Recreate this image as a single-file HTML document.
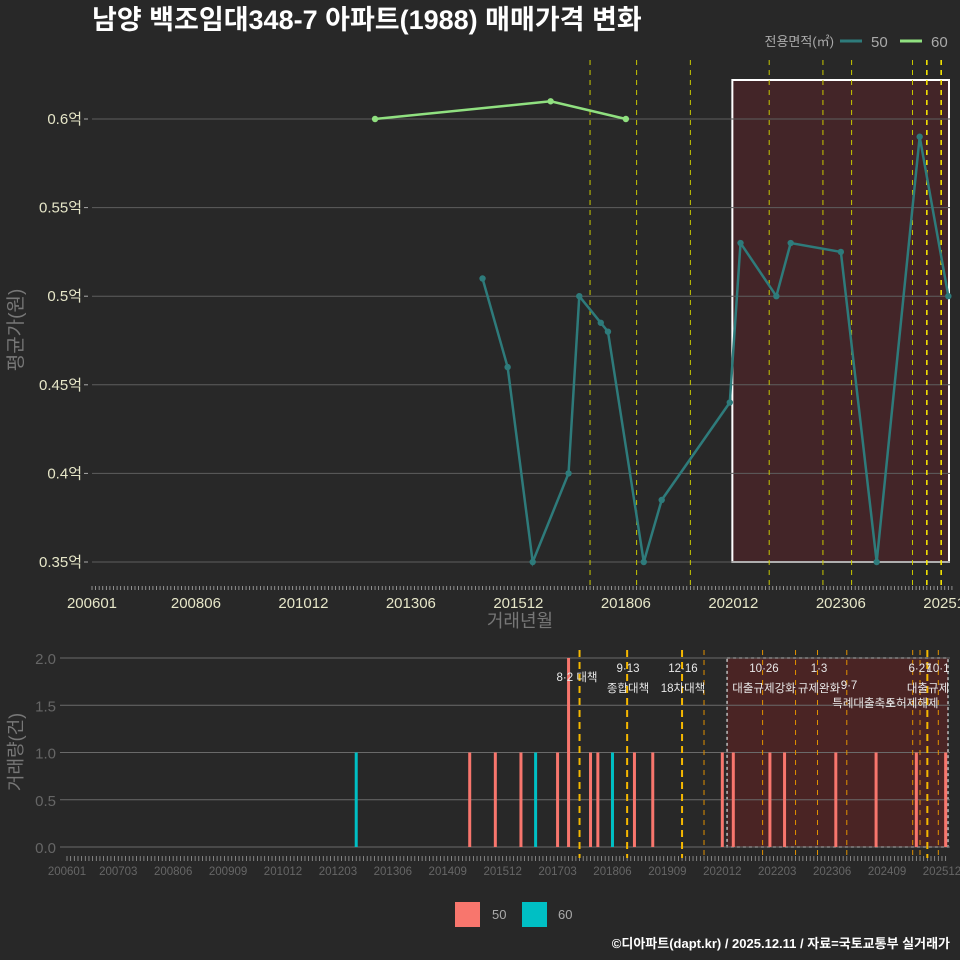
<!DOCTYPE html>
<html><head><meta charset="utf-8"><style>
html,body{margin:0;padding:0;background:#282828;}
svg{display:block;font-family:"Liberation Sans","Noto Sans CJK KR",sans-serif;}
</style></head><body>
<svg id="c" width="960" height="960" viewBox="0 0 960 960">
<rect width="960" height="960" fill="#282828"/>
<text x="92" y="29" fill="#fff" font-size="27" font-weight="bold">남양 백조임대348-7 아파트(1988) 매매가격 변화</text>
<g id="topg"></g>
<g id="botg"></g>
<g>
<text x="834" y="46" fill="#aaa" font-size="13" text-anchor="end">전용면적(㎡)</text>
<line x1="840" y1="41" x2="862" y2="41" stroke="#2e7b7b" stroke-width="3"/>
<text x="871" y="47" fill="#aaa" font-size="15">50</text>
<line x1="900" y1="41" x2="922" y2="41" stroke="#90e080" stroke-width="3"/>
<text x="931" y="47" fill="#aaa" font-size="15">60</text>
</g>
<g>
<rect x="455" y="902" width="25" height="25" fill="#f8766d"/>
<text x="492" y="919" fill="#aaa" font-size="13">50</text>
<rect x="522" y="902" width="25" height="25" fill="#00bfc4"/>
<text x="558" y="919" fill="#aaa" font-size="13">60</text>
</g>
<text x="950" y="948" fill="#fff" font-size="13" font-weight="bold" text-anchor="end">©디아파트(dapt.kr) / 2025.12.11 / 자료=국토교통부 실거래가</text>
</svg>
<script>
// months counted from 2006-01
const s50Months=[109,116,123,133,136,142,144,154,159,178,181,191,195,209,219,231,239];
const s50Values=[0.51,0.46,0.35,0.40,0.50,0.485,0.48,0.35,0.385,0.44,0.53,0.50,0.53,0.525,0.35,0.59,0.50];
const s60Months=[79,128,149];
const s60Values=[0.60,0.61,0.60];
const yTicks=[0.35,0.4,0.45,0.5,0.55,0.6];
const yTickLabels=["0.35억","0.4억","0.45억","0.5억","0.55억","0.6억"];
const xTickMonths=[0,29,59,89,119,149,179,209,239];
const xTickLabels=["200601","200806","201012","201306","201512","201806","202012","202306","202512"];
const policyMonths=[139,152,167,189,204,212,229,233,237];
const barMonths=[79,110,117,124,128,134,137,143,145,149,155,160,179,182,192,196,210,221,232,240];
const barSeries=["60","50","50","50","60","50","50","50","50","60","50","50","50","50","50","50","50","50","50","50"];
const barCounts=[1,1,1,1,1,1,2,1,1,1,1,1,1,1,1,1,1,1,1,1];
const bTicks=[0,0.5,1,1.5,2];
const bTickLabels=["0.0","0.5","1.0","1.5","2.0"];
const bxTickMonths=[0,14,29,44,59,74,89,104,119,134,149,164,179,194,209,224,239];
const bxTickLabels=["200601","200703","200806","200909","201012","201203","201306","201409","201512","201703","201806","201909","202012","202203","202306","202409","202512"];
const bPolicyMonths=[140,153,168,174,190,199,205,213,231,233,235,238];

const NS="http://www.w3.org/2000/svg";
function mk(p,t,a,txt){const e=document.createElementNS(NS,t);for(const k in a)e.setAttribute(k,a[k]);if(txt!==undefined)e.textContent=txt;p.appendChild(e);return e;}
const X=m=>92+3.583*m, Y=v=>119+(0.6-v)*1772;
const X2=m=>67+3.661*m, Y2=v=>847-v*94.5;
const topG=document.getElementById('topg'), botG=document.getElementById('botg');

// top chart
let r=mk(topG,'rect',{x:X(179)-1,y:80,width:949-X(179)+1,height:562-80,fill:'#432528',stroke:'#fff','stroke-width':2});


yTicks.forEach((v,i)=>{
 let g=mk(topG,'line',{x1:92,x2:950,y1:Y(v),y2:Y(v),stroke:'#5e5e5e','stroke-width':1});
 
 
 mk(topG,'line',{x1:84,x2:88,y1:Y(v),y2:Y(v),stroke:'#aaa'});
 let t=mk(topG,'text',{x:82,y:Y(v)+5,fill:'#e6e6c8','font-size':15,'text-anchor':'end'},yTickLabels[i]);
 
 
});
for(let m=0;m<=240;m++) mk(topG,'line',{x1:X(m),x2:X(m),y1:586,y2:590,stroke:'#aaa','stroke-width':0.8});
xTickMonths.forEach((m,i)=>{
 let t=mk(topG,'text',{x:X(m),y:608,fill:'#e6e6c8','font-size':15,'text-anchor':'middle'},xTickLabels[i]);
 
 
});
policyMonths.forEach((m,i)=>{
 let l=mk(topG,'line',{x1:X(m),x2:X(m),y1:60,y2:590,stroke:i>=7?'#ffee00':'#c8c800','stroke-width':i>=7?1.5:1,'stroke-dasharray':'5,5'});
 
 
});
function series(ms,vs,col,name){
 let p=mk(topG,'polyline',{points:ms.map((m,i)=>X(m)+','+Y(vs[i])).join(' '),fill:'none',stroke:col,'stroke-width':2.5});
 
 
 ms.forEach((m,i)=>{let c=mk(topG,'circle',{cx:X(m),cy:Y(vs[i]),r:3.2,fill:col});
  
  });
}
series(s50Months,s50Values,'#2e7b7b','series-50');
series(s60Months,s60Values,'#90e080','series-60');
let yt=mk(topG,'text',{x:22,y:330,fill:'#777','font-size':19,'text-anchor':'middle',transform:'rotate(-90 22 330)'},'평균가(원)');


let xt=mk(topG,'text',{x:520,y:627,fill:'#777','font-size':18,'text-anchor':'middle'},'거래년월');



// bottom chart
let br=mk(botG,'rect',{x:X2(180.3),y:658,width:948-X2(180.3),height:847-658,fill:'#4a2424',stroke:'#bbb','stroke-width':1.5,'stroke-dasharray':'3,3'});


bTicks.forEach((v,i)=>{
 let g=mk(botG,'line',{x1:60,x2:950,y1:Y2(v),y2:Y2(v),stroke:'#6a6a6a','stroke-width':1});
 
 
 let t=mk(botG,'text',{x:56,y:Y2(v)+6,fill:'#666','font-size':15,'text-anchor':'end'},bTickLabels[i]);
 
 
});
for(let m=0;m<=240;m++) mk(botG,'line',{x1:X2(m),x2:X2(m),y1:856,y2:861,stroke:'#999','stroke-width':0.8});
bxTickMonths.forEach((m,i)=>{
 let t=mk(botG,'text',{x:X2(m),y:875,fill:'#666','font-size':11.5,'text-anchor':'middle'},bxTickLabels[i]);
 
 
});
barMonths.forEach((m,i)=>{
 let b=mk(botG,'rect',{x:X2(m)-1.5,y:Y2(barCounts[i]),width:3,height:Y2(0)-Y2(barCounts[i]),fill:barSeries[i]==='50'?'#f8766d':'#00bfc4'});
 
 
});
bPolicyMonths.forEach((m,i)=>{
 const thick=[0,1,2,10].includes(i);
 let l=mk(botG,'line',{x1:X2(m),x2:X2(m),y1:650,y2:858,stroke:thick?'#f5b800':'#e09000','stroke-width':thick?2:1,'stroke-dasharray':thick?'7,5':'5,5'});
 
 
});
const ann=[[577,681,'8·2 대책'],[628,672,'9·13'],[628,692,'종합대책'],[683,672,'12·16'],[683,692,'18차대책'],[764,672,'10·26'],[764,692,'대출규제강화'],[819,672,'1·3'],[819,692,'규제완화'],[849,689,'9·7'],[864,707,'특례대출축소'],[912,707,'토허제해제'],[920,672,'6·27'],[938,672,'10·1'],[928,692,'대출규제']];
ann.forEach(a=>{let t=mk(botG,'text',{x:a[0],y:a[1],fill:'#e8e8e8','font-size':11.5,'text-anchor':'middle'},a[2]);
 
 });
let by=mk(botG,'text',{x:22,y:752,fill:'#777','font-size':18,'text-anchor':'middle',transform:'rotate(-90 22 752)'},'거래량(건)');


</script>
</body></html>
